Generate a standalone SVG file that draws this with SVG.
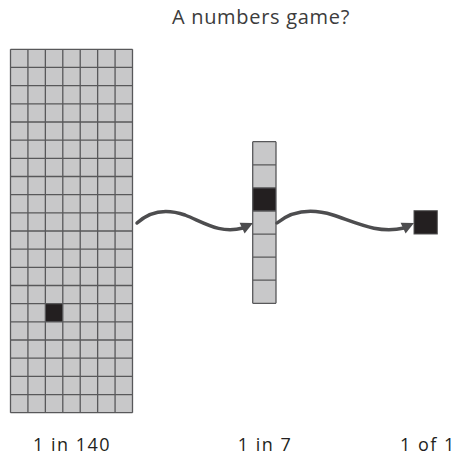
<svg xmlns="http://www.w3.org/2000/svg" width="455" height="456" viewBox="0 0 455 456">
  <style>
    .cell { fill: #c8c8c9; }
    .grid { fill: none; stroke: #58585a; stroke-width: 1.3; }
    .dark { fill: #231f20; }
    .lbl { font-family: "Open Sans", "Noto Sans", sans-serif; font-size: 18px; fill: #231f20; text-anchor: middle; letter-spacing: 1.5px; }
    .title { font-family: "Open Sans", "Noto Sans", sans-serif; font-size: 20px; fill: #3c3c3c; text-anchor: middle; letter-spacing: 0.7px; }
    .wave { fill: none; stroke: #4d4d4f; stroke-width: 3.5; stroke-linecap: round; }
    .head { fill: #4d4d4f; }
  </style>
  <rect width="455" height="456" fill="#ffffff"/>

  <g id="title">
    <text class="title" x="261" y="24">A numbers game?</text>
  </g>

  <g id="grid140">
    <rect class="cell" x="10.5" y="49.3" width="122" height="363.4"/>
    <rect class="dark" x="45.36" y="303.68" width="17.43" height="18.17"/>
    <path class="grid" d="M10.5,49.3V412.7M27.93,49.3V412.7M45.36,49.3V412.7M62.79,49.3V412.7M80.21,49.3V412.7M97.64,49.3V412.7M115.07,49.3V412.7M132.5,49.3V412.7
      M10.5,49.3H132.5M10.5,67.47H132.5M10.5,85.64H132.5M10.5,103.81H132.5M10.5,121.98H132.5M10.5,140.15H132.5M10.5,158.32H132.5M10.5,176.49H132.5M10.5,194.66H132.5M10.5,212.83H132.5M10.5,231H132.5M10.5,249.17H132.5M10.5,267.34H132.5M10.5,285.51H132.5M10.5,303.68H132.5M10.5,321.85H132.5M10.5,340.02H132.5M10.5,358.19H132.5M10.5,376.36H132.5M10.5,394.53H132.5M10.5,412.7H132.5"/>
  </g>

  <g id="grid7">
    <rect class="cell" x="252.7" y="141.7" width="23.3" height="161.6"/>
    <rect class="dark" x="252.7" y="187.9" width="23.3" height="23.1"/>
    <path class="grid" d="M252.7,141.7V303.3M276,141.7V303.3M252.7,141.7H276M252.7,164.8H276M252.7,187.9H276M252.7,211H276M252.7,234.05H276M252.7,257.1H276M252.7,280.2H276M252.7,303.3H276"/>
  </g>

  <g id="single">
    <rect class="dark" x="414" y="210.7" width="23.3" height="23.3" stroke="#555" stroke-width="1"/>
  </g>

  <g id="connectors">
    <path class="wave" d="M137,223 C150,211 165,208 185,215 C205,223 220,234 243,228"/>
    <polygon class="head" points="253,223 239.6,222.7 244.6,233.5"/>
    <path class="wave" d="M277,223 C292,211 310,208 333,215 C357,223 378,234 404,228"/>
    <polygon class="head" points="414,223 400.6,222.7 405.6,233.5"/>
  </g>

  <g id="labels">
    <text class="lbl" x="72" y="450.5">1 in 140</text>
    <text class="lbl" x="265" y="450.5">1 in 7</text>
    <text class="lbl" x="428" y="450.5">1 of 1</text>
  </g>
</svg>
